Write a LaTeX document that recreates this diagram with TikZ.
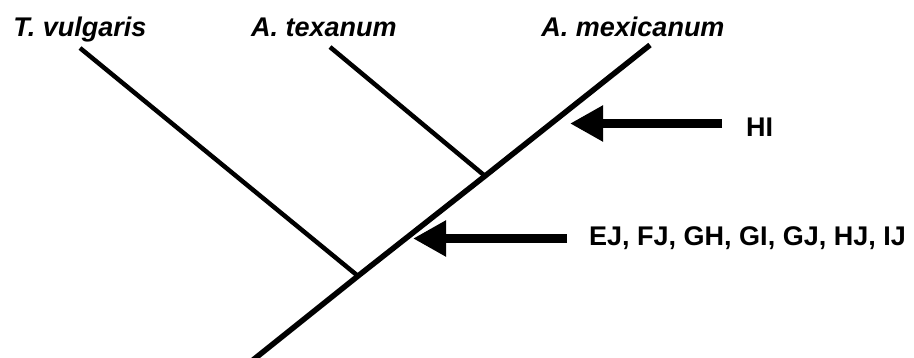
\documentclass[tikz,border=0pt]{standalone}
\usepackage{fontspec}
\setmainfont{Liberation Sans}
\usetikzlibrary{arrows.meta}
\tikzset{
  taxon/.style={font=\fontsize{27}{31}\selectfont\bfseries\itshape, anchor=base, inner sep=0pt},
  marker/.style={font=\fontsize{27}{31}\selectfont\bfseries, anchor=west, inner sep=0pt},
  branch/.style={line width=4.5pt},
  trunk/.style={line width=5.5pt},
  fatarrow/.style={line width=9.5pt, -{Triangle[length=33pt, width=34pt]}}
}
\begin{document}
\begin{tikzpicture}[x=1pt, y=-1pt]
				\useasboundingbox (0,0) rectangle (914,358);

				% Taxon labels
				\node[taxon] (tv) at (80,37) {T. vulgaris};
				\node[taxon] (at) at (324,37) {A. texanum};
				\node[taxon] (am) at (633,37) {A. mexicanum};

				% Tips, junctions and root
				\coordinate (tvtip) at (80,48);
				\coordinate (attip) at (330,47);
				\coordinate (amtip) at (650,45);
				\coordinate (j1) at (358,276);
				\coordinate (j2) at (485,176);
				\coordinate (root) at (253,360);

				% Tree
				\draw[trunk] (root) -- (j1) -- (j2) -- (amtip);
				\draw[branch] (tvtip) -- (j1);
				\draw[branch] (attip) -- (j2);

				% Upper marker
				\node[marker] (hi) at (746,127) {HI};
				\coordinate (hitail) at (722,123.5);
				\coordinate (hihead) at (570,123.5);
				\draw[fatarrow] (hitail) -- (hihead);

				% Lower marker
				\node[marker] (pairs) at (589,238.5) {EJ, FJ, GH, GI, GJ, HJ, IJ};
				\coordinate (pairstail) at (567,238.5);
				\coordinate (pairshead) at (413,238.5);
				\draw[fatarrow] (pairstail) -- (pairshead);
\end{tikzpicture}
\end{document}
